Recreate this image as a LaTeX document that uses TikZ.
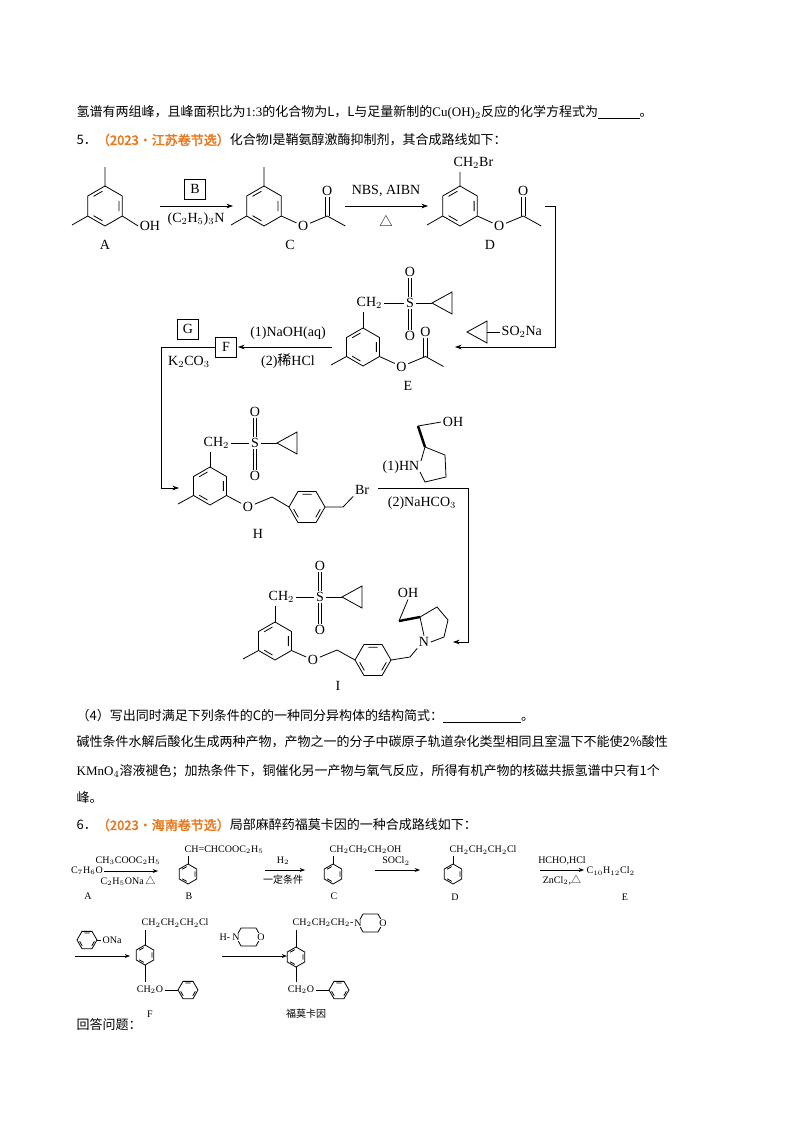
\documentclass[tikz,border=0pt]{standalone}
\usepackage{fontspec}
\setmainfont{Liberation Serif}
\newfontfamily\cjk[AutoFakeBold=2.5]{Noto Sans CJK SC}
\usetikzlibrary{arrows.meta}
\definecolor{hdorange}{RGB}{232,120,30}
\newcommand\benz[4]{\begin{scope}[shift={(#1,#2)},rotate=#4]
 \draw (0:#3)--(60:#3)--(120:#3)--(180:#3)--(240:#3)--(300:#3)--cycle;
 \draw (10:0.75*#3)--(50:0.75*#3) (130:0.75*#3)--(170:0.75*#3) (250:0.75*#3)--(290:0.75*#3);
\end{scope}}
\newcommand\cprop[2]{\draw (#1,#2)--(#1+20,#2-11)--(#1+20,#2+11)--cycle;}
\newcommand\sulfone[3]{%
 \node[ch] (#1S) at (#2,#3) {S};
 \node[ch] (#1Ot) at (#2,#3-31) {O};
 \node[ch] (#1Ob) at (#2,#3+33) {O};
 \draw ([xshift=-1.3pt]#1S.north)--([xshift=-1.3pt]#1Ot.south) ([xshift=1.3pt]#1S.north)--([xshift=1.3pt]#1Ot.south);
 \draw ([xshift=-1.3pt]#1S.south)--([xshift=-1.3pt]#1Ob.north) ([xshift=1.3pt]#1S.south)--([xshift=1.3pt]#1Ob.north);
 \coordinate (#1cp) at (#2+22,#3);
 \draw (#1S.east)--(#1cp); \cprop{#2+22}{#3}}
\newcommand\ester[3]{%
 \node[ch] (#1O) at (#2+22,#3+10) {O};
 \coordinate (#1C) at (#2+46,#3);
 \node[ch] (#1Ot) at (#2+46,#3-25) {O};
 \draw (#2,#3)--(#1O)--(#1C)--(#2+64,#3+10);
 \draw ([xshift=-1.3pt]#1C)--([xshift=-1.3pt]#1Ot.south) ([xshift=1.3pt]#1C)--([xshift=1.3pt]#1Ot.south);}
\begin{document}
\begin{tikzpicture}[x=0.75pt,y=-0.75pt,line width=0.6pt,
 every node/.style={inner sep=1pt},
 ch/.style={font=\fontsize{10.5}{12}\selectfont},
 sm/.style={font=\fontsize{7.5}{9}\selectfont},
 txt/.style={anchor=west,font=\cjk\fontsize{9.75}{12}\selectfont},
 lab/.style={font=\fontsize{10.5}{12}\selectfont},
 bx/.style={draw,minimum width=16pt,minimum height=15pt,font=\fontsize{10.5}{12}\selectfont},
 arr/.style={-{Stealth[length=5pt,width=3.5pt]}},
 sarr/.style={-{Stealth[length=4pt,width=3pt]},line width=0.5pt}]
\useasboundingbox (0,0) rectangle (800,1132);
% text
\node[txt] (t1) at (75,112) {氢谱有两组峰，且峰面积比为{\rmfamily 1:3}的化合物为L，L与足量新制的{\rmfamily Cu(OH)$_2$}反应的化学方程式为\underline{\hspace{3.2em}}。};
\node[txt] (t2) at (75,140) {5．{\color{hdorange}\bfseries （2023·江苏卷节选）}化合物I是鞘氨醇激酶抑制剂，其合成路线如下：};
\node[txt] (t3) at (75,716) {（4）写出同时满足下列条件的C的一种同分异构体的结构简式：\underline{\hspace{6em}}。};
\node[txt] (t4) at (75,742) {碱性条件水解后酸化生成两种产物，产物之一的分子中碳原子轨道杂化类型相同且室温下不能使2\%酸性};
\node[txt] (t5) at (75,771) {{\rmfamily KMnO$_4$}溶液褪色；加热条件下，铜催化另一产物与氧气反应，所得有机产物的核磁共振氢谱中只有1个};
\node[txt] (t6) at (75,798) {峰。};
\node[txt] (t7) at (75,825) {6．{\color{hdorange}\bfseries （2023·海南卷节选）}局部麻醉药福莫卡因的一种合成路线如下：};
\node[txt] (t8) at (75,1025) {回答问题：};
% ---- A
\benz{105}{206}{20}{30}
\draw (105,186)--(105,167) (87.7,216)--(72,225);
\node[ch] (AOH) at (150,226) {OH};
\draw (122.3,216)--(AOH.west);
\node[lab] (Alab) at (105,245) {A};
\coordinate (a1s) at (160,206); \coordinate (a1e) at (233,206);
\draw[arr] (a1s)--(a1e);
\node[bx] (Bbox) at (195,189) {B};
\node[ch] (Bcond) at (196,219) {(C$_2$H$_5$)$_3$N};
% ---- C
\benz{264}{206}{20}{30}
\draw (264,186)--(264,167) (246.7,216)--(231,225);
\ester{c}{281.3}{216}
\node[lab] (Clab) at (290,245) {C};
\coordinate (a2s) at (345,206); \coordinate (a2e) at (428,206);
\draw[arr] (a2s)--(a2e);
\node[ch] (NBS) at (386,191) {NBS, AIBN};
\node[font=\cjk\fontsize{10}{12}\selectfont] (del1) at (386,221) {△};
% ---- D
\benz{460}{206}{20}{30}
\draw (460,186)--(460,172) (442.7,216)--(427,225);
\node[ch,anchor=west] (CH2Br) at (452,163) {CH$_2$Br};
\ester{d}{477.3}{216}
\node[lab] (Dlab) at (490,245) {D};
\coordinate (r1) at (545,206); \coordinate (r2) at (555,206); \coordinate (r3) at (555,347); \coordinate (r4) at (455,347);
\draw[arr] (r1)--(r2)--(r3)--(r4);
\cprop{467}{332}
\node[ch,anchor=west] (SO2Na) at (500,332) {SO$_2$Na};
\draw (487,332)--(SO2Na.west);
% ---- E
\benz{363}{347}{19}{30}
\node[ch,anchor=west] (eCH) at (355,303) {CH$_2$};
\draw (363,328)--(363,312);
\sulfone{e}{410}{303}
\draw (eCH.east)--(eS.west);
\draw (346.5,356.5)--(331,365);
\ester{e}{379.5}{356.5}
\node[lab] (Elab) at (408,386) {E};
\coordinate (b1) at (332,347); \coordinate (b2) at (238,347);
\draw[arr] (b1)--(b2);
\node[ch] (NaOH) at (288,333) {(1)NaOH(aq)};
\node[ch] (HCl) at (288,361) {(2){\cjk 稀}HCl};
\node[bx] (Fbox) at (226,347) {F};
\node[bx] (Gbox) at (188,329) {G};
\node[ch] (K2CO3) at (189,362) {K$_2$CO$_3$};
\coordinate (g1) at (161,347); \coordinate (g2) at (161,488); \coordinate (g3) at (179,488);
\draw[arr] (Fbox.west)--(g1)--(g2)--(g3);
% ---- H
\benz{210}{486}{19}{30}
\node[ch,anchor=west] (hCH) at (202,443) {CH$_2$};
\draw (210,467)--(210,452);
\sulfone{h}{255}{443}
\draw (hCH.east)--(hS.west);
\draw (193.5,495.5)--(178,504);
\node[ch] (hO) at (248,507) {O};
\draw (226.5,495.5)--(hO)--(272,497)--(289,507);
\benz{307}{507}{18}{0}
\node[ch] (hBr) at (362,490) {Br};
\draw (325,507)--(343,507)--(hBr.south west);
\node[lab] (Hlab) at (258,534) {H};
% reagent
\node[ch,anchor=east] (HN) at (421,467) {(1)HN};
\draw (421,461)--(425,447)--(445,455)--(446,477)--(425,482)--(420,472);
\draw[line width=1.8pt] (425,447)--(418,426);
\node[ch] (rOH) at (453,422) {OH};
\draw (418,426)--(rOH.west);
\coordinate (s1) at (378,488); \coordinate (s2) at (468,488); \coordinate (s3) at (468,642); \coordinate (s4) at (453,642);
\draw[arr] (s1)--(s2)--(s3)--(s4);
\node[ch] (NaHCO3) at (422,503) {(2)NaHCO$_3$};
% ---- I
\benz{275}{641}{19}{30}
\node[ch,anchor=west] (iCH) at (267,597) {CH$_2$};
\draw (275,622)--(275,606);
\sulfone{i}{320}{597}
\draw (iCH.east)--(iS.west);
\draw (258.5,650.5)--(243,659);
\node[ch] (iO) at (313,660) {O};
\draw (291.5,650.5)--(iO)--(337,650)--(355,660);
\benz{373}{660}{18}{0}
\node[ch] (iN) at (424,642) {N};
\draw (391,660)--(410,657)--(iN.south west);
\draw (iN.north)--(420,617)--(437,607)--(448,620)--(444,637)--(iN.east);
\draw[line width=1.8pt] (420,617)--(399,621);
\node[ch] (iOH) at (408,593) {OH};
\draw (399,621)--(iOH.south);
\node[lab] (Ilab) at (338,686) {I};
% ===== scheme 6
\node[sm] (sA) at (87,871) {C$_7$H$_6$O};
\coordinate (p1) at (158,871);
\draw[sarr] (sA.east)--(p1);
\node[sm] (c61) at (128,861) {CH$_3$COOC$_2$H$_5$};
\node[sm] (c62) at (128,881) {C$_2$H$_5$ONa\,{\cjk △}};
\node[sm] (sAl) at (88,896) {A};
\benz{188}{874}{10}{30}
\draw (188,864)--(188,856);
\node[sm,anchor=west] (sBt) at (183,850) {CH=CHCOOC$_2$H$_5$};
\node[sm] (sBl) at (189,896) {B};
\coordinate (p2s) at (265,870); \coordinate (p2e) at (305,870);
\draw[sarr] (p2s)--(p2e);
\node[sm] (H2) at (283,861) {H$_2$};
\node[sm,font=\cjk\fontsize{7.5}{9}\selectfont] (cond) at (283,880) {一定条件};
\benz{333}{874}{10}{30}
\draw (333,864)--(333,856);
\node[sm,anchor=west] (sCt) at (328,850) {CH$_2$CH$_2$CH$_2$OH};
\node[sm] (sCl) at (334,896) {C};
\coordinate (p3s) at (375,870); \coordinate (p3e) at (420,870);
\draw[sarr] (p3s)--(p3e);
\node[sm] (SOCl2) at (396,861) {SOCl$_2$};
\benz{453}{874}{10}{30}
\draw (453,864)--(453,856);
\node[sm,anchor=west] (sDt) at (448,850) {CH$_2$CH$_2$CH$_2$Cl};
\node[sm] (sDl) at (455,897) {D};
\coordinate (p4s) at (540,870); \coordinate (p4e) at (584,870);
\draw[sarr] (p4s)--(p4e);
\node[sm] (HCHO) at (562,861) {HCHO,HCl};
\node[sm] (ZnCl) at (562,880) {ZnCl$_2$,{\cjk △}};
\node[sm,anchor=west] (sE) at (585,871) {C$_{10}$H$_{12}$Cl$_2$};
\node[sm] (sEl) at (625,897) {E};
% row 2
\benz{87}{940}{10}{0}
\node[sm,anchor=west] (ONa) at (101,940) {ONa};
\draw (97,940)--(ONa.west);
\coordinate (q1s) at (75,956); \coordinate (q1e) at (130,956);
\draw[sarr] (q1s)--(q1e);
\benz{145}{955}{10}{30}
\draw (145,945)--(145,930);
\node[sm,anchor=west] (Ft) at (140,923) {CH$_2$CH$_2$CH$_2$Cl};
\draw (145,965)--(145,982);
\node[sm] (FO) at (150,990) {CH$_2$O};
\benz{188}{990}{10}{0}
\draw (FO.east)--(178,990);
\node[sm] (Fl) at (150,1014) {F};
\coordinate (q2s) at (222,956); \coordinate (q2e) at (287,956);
\draw[sarr] (q2s)--(q2e);
\draw (236,937)--(241,928)--(256,928)--(261,937)--(256,946)--(241,946)--cycle;
\node[sm,fill=white,inner sep=0.5pt] (mN1) at (236,937) {N};
\node[sm,fill=white,inner sep=0.5pt] (mO1) at (261,937) {O};
\node[sm,anchor=east] (mH) at (232,937) {H-};
\benz{296}{957}{10}{30}
\draw (296,947)--(296,930);
\node[sm,anchor=west] (Pt) at (291,923) {CH$_2$CH$_2$CH$_2$-};
\draw (358,923)--(363,914)--(378,914)--(383,923)--(378,932)--(363,932)--cycle;
\node[sm,fill=white,inner sep=0.5pt] (mN2) at (358,923) {N};
\node[sm,fill=white,inner sep=0.5pt] (mO2) at (383,923) {O};
\draw (296,967)--(296,982);
\node[sm] (PO) at (301,990) {CH$_2$O};
\benz{339}{990}{10}{0}
\draw (PO.east)--(329,990);
\node[sm,font=\cjk\fontsize{7.5}{9}\selectfont] (Pl) at (306,1014) {福莫卡因};
\end{tikzpicture}
\end{document}
